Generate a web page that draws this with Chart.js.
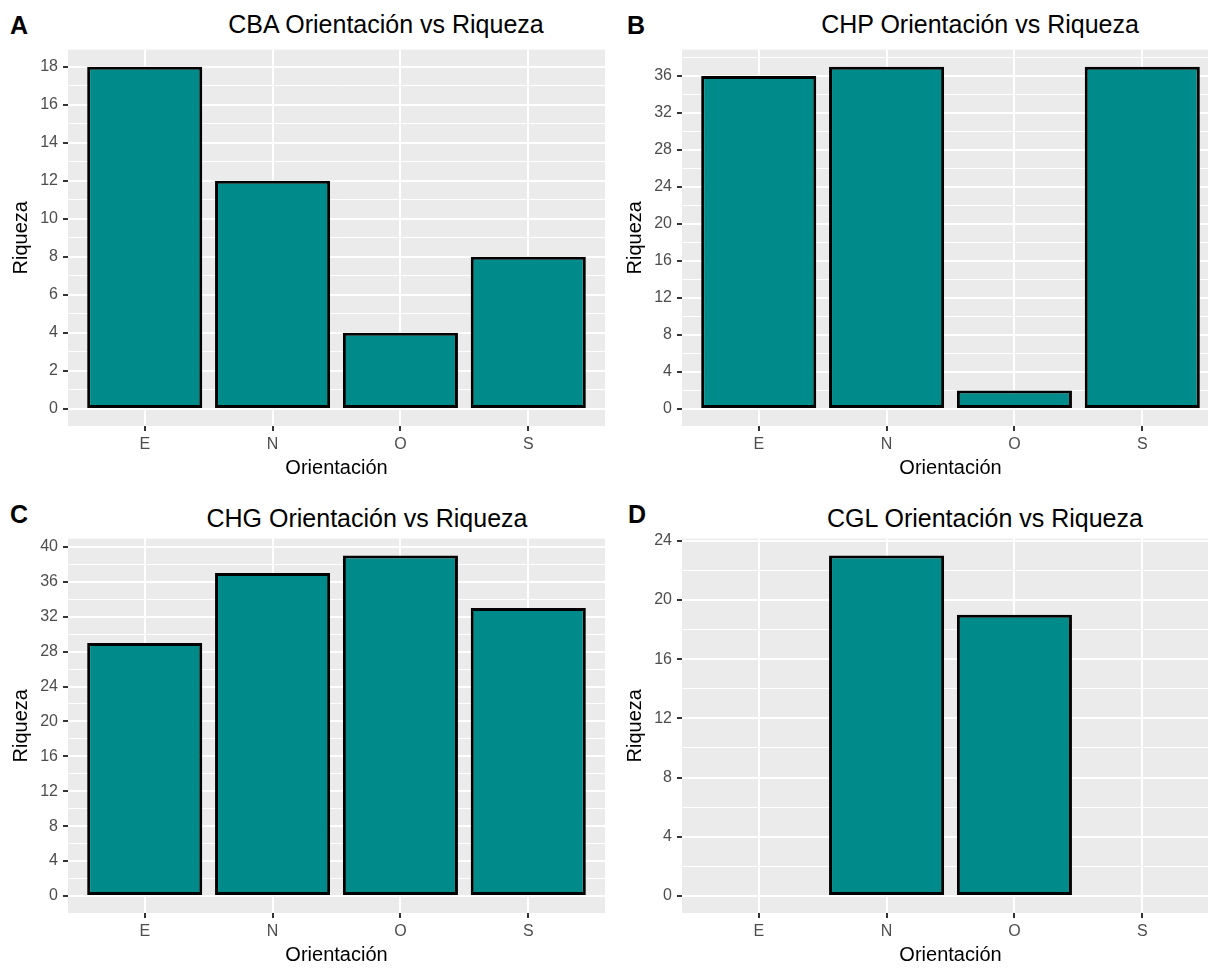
<!DOCTYPE html>
<html>
<head>
<meta charset="utf-8">
<script src="https://cdn.jsdelivr.net/npm/chart.js@4.4.1/dist/chart.umd.min.js"></script>
<style>
  html, body { margin: 0; padding: 0; background: #fff; overflow: hidden; }
  #page { position: relative; width: 1208px; height: 970px; overflow: hidden; font-family: 'Liberation Sans', Arial, sans-serif; }
  .panel { position: absolute; width: 605px; }
  .tag { position: absolute; font-size: 25px; font-weight: bold; line-height: 25px; color: #000; }
  .title { position: absolute; width: 600px; text-align: center; font-size: 25px; line-height: 25px; color: #000; white-space: nowrap; }
</style>
</head>
<body>
<div id="page">
  <div class="tag" style="left:10px;top:13px">A</div>
  <div class="title" style="left:86px;top:12px">CBA Orientación vs Riqueza</div>
  <div class="tag" style="left:627px;top:13px">B</div>
  <div class="title" style="left:680px;top:12px">CHP Orientación vs Riqueza</div>
  <div class="tag" style="left:10px;top:502px">C</div>
  <div class="title" style="left:67px;top:506px">CHG Orientación vs Riqueza</div>
  <div class="tag" style="left:628px;top:502px">D</div>
  <div class="title" style="left:685px;top:506px">CGL Orientación vs Riqueza</div>

  <div class="panel" style="left:0;top:35px;height:451px"><canvas id="chartA"></canvas></div>
  <div class="panel" style="left:614px;top:35px;height:451px"><canvas id="chartB"></canvas></div>
  <div class="panel" style="left:0;top:524px;height:449px"><canvas id="chartC"></canvas></div>
  <div class="panel" style="left:614px;top:524px;height:449px"><canvas id="chartD"></canvas></div>
</div>

<script>
const categories = ['E', 'N', 'O', 'S'];

const riquezaCBA = [18, 12, 4, 8];
const riquezaCHP = [36, 37, 2, 37];
const riquezaCHG = [29, 37, 39, 33];
const riquezaCGL = [null, 23, 19, null];   // E y S sin datos

const ticksCBA = [0, 2, 4, 6, 8, 10, 12, 14, 16, 18];
const ticksCHP = [0, 4, 8, 12, 16, 20, 24, 28, 32, 36];
const ticksCHG = [0, 4, 8, 12, 16, 20, 24, 28, 32, 36, 40];
const ticksCGL = [0, 4, 8, 12, 16, 20, 24];

Chart.defaults.font.family = "'Liberation Sans', Arial, sans-serif";

// fondo gris del panel, como ggplot
const panelBg = {
  id: 'panelBg',
  beforeDraw(chart) {
    const { ctx, chartArea: a } = chart;
    ctx.save();
    ctx.fillStyle = '#EBEBEB';
    ctx.fillRect(a.left, a.top, a.width, a.height);
    ctx.restore();
  }
};

// lineas mayores + menores (a mitad de paso)
function withMinor(major, max) {
  const step = major[1] - major[0];
  const out = [];
  major.forEach(v => {
    out.push({ value: v });
    if (v + step / 2 <= max) out.push({ value: v + step / 2, minor: true });
  });
  return out;
}

function makeChart(id, values, yTicks) {
  const top = Math.max(...values.filter(v => v !== null));
  const pad = top * 0.05;
  return new Chart(document.getElementById(id), {
    type: 'bar',
    data: {
      datasets: [{
        data: values.map((v, i) => ({ x: i + 1, y: v })),
        backgroundColor: '#008B8B',
        borderColor: '#000000',
        borderWidth: 3,
        borderSkipped: false,
        categoryPercentage: 1,
        barPercentage: 0.9
      }]
    },
    options: {
      responsive: true,
      maintainAspectRatio: false,
      animation: false,
      layout: { padding: { top: 12, left: 0, right: 0, bottom: 0 } },
      plugins: { legend: { display: false }, tooltip: { enabled: false } },
      scales: {
        x: {
          type: 'linear',
          min: 0.4,
          max: 4.6,
          offset: false,
          afterBuildTicks: s => { s.ticks = categories.map((c, i) => ({ value: i + 1 })); },
          afterFit: s => { s.height = 60; },
          ticks: {
            callback: v => categories[v - 1],
            color: '#4D4D4D',
            font: { size: 16 },
            padding: 4,
            autoSkip: false,
            maxRotation: 0
          },
          grid: { offset: false, color: '#FFFFFF', lineWidth: 2, tickLength: 5, tickColor: '#333333', tickWidth: 2 },
          border: { display: false },
          title: { display: true, text: 'Orientación', color: '#000000', font: { size: 20 }, padding: { top: 0, bottom: 6 } }
        },
        y: {
          min: -pad,
          max: top + pad,
          afterBuildTicks: s => { s.ticks = withMinor(yTicks, top + pad); },
          afterFit: s => { s.width = 68; },
          ticks: {
            callback: (v, i, t) => (t[i].minor ? '' : v),
            color: '#4D4D4D',
            font: { size: 16 },
            padding: 5,
            autoSkip: false
          },
          grid: {
            color: '#FFFFFF',
            lineWidth: c => (c.tick && c.tick.minor ? 1 : 2),
            tickLength: 5,
            tickColor: c => (c.tick && c.tick.minor ? 'rgba(0,0,0,0)' : '#333333'),
            tickWidth: 2
          },
          border: { display: false },
          title: { display: true, text: 'Riqueza', color: '#000000', font: { size: 20 }, padding: { top: 9.5, bottom: 0 } }
        }
      }
    },
    plugins: [panelBg]
  });
}

makeChart('chartA', riquezaCBA, ticksCBA);
makeChart('chartB', riquezaCHP, ticksCHP);
makeChart('chartC', riquezaCHG, ticksCHG);
makeChart('chartD', riquezaCGL, ticksCGL);
</script>
</body>
</html>
